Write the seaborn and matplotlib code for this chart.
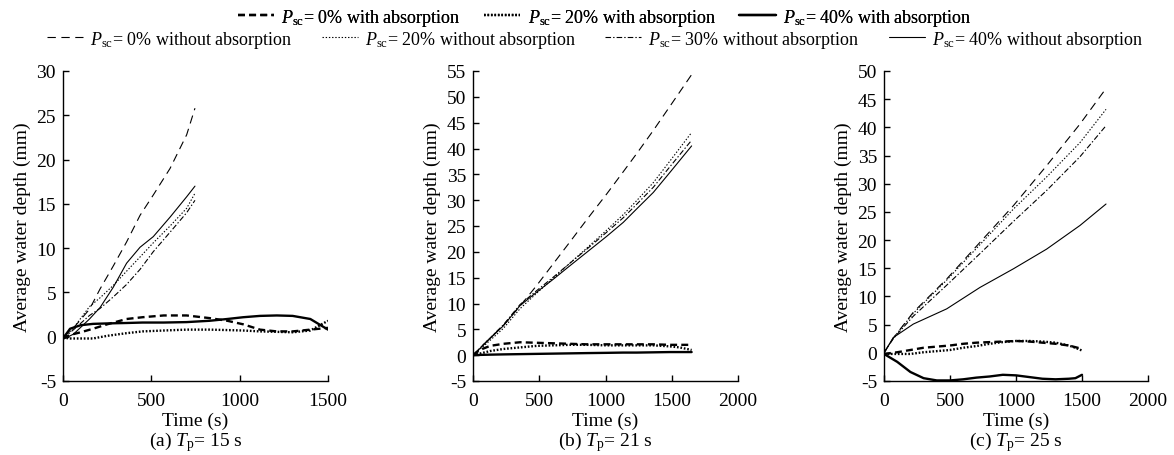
import matplotlib
matplotlib.use("Agg")
import matplotlib.pyplot as plt
from matplotlib.lines import Line2D
import seaborn as sns
import pandas as pd

# ---------------- data ----------------
# Panel (a) Tp = 15 s
t_a_wo = [0, 60, 150, 210, 285, 360, 436, 511, 606, 700, 747]
a_0_wo = [0, 1.0, 3.1, 5.4, 8.0, 10.7, 13.7, 16.0, 19.0, 22.8, 25.8]
a_20_wo = [-0.2, 1.0, 3.4, 4.4, 5.8, 7.4, 9.0, 10.6, 12.5, 14.5, 16.2]
a_30_wo = [-0.2, 0.8, 2.4, 3.2, 4.5, 5.9, 7.6, 9.6, 11.8, 14.0, 15.4]
a_40_wo = [-0.3, 0.3, 2.0, 3.3, 5.6, 8.3, 10.1, 11.3, 13.5, 15.8, 17.0]

t_a_w = [0, 40, 100, 170, 250, 360, 450, 570, 700, 830, 930, 1020, 1115, 1210, 1300, 1400, 1500]
a_0_w = [-0.2, 0.2, 0.5, 0.9, 1.4, 2.0, 2.2, 2.4, 2.4, 2.1, 1.8, 1.4, 0.8, 0.6, 0.6, 0.8, 1.0]
a_20_w = [-0.1, -0.2, -0.2, -0.2, 0.1, 0.4, 0.6, 0.7, 0.8, 0.8, 0.75, 0.7, 0.6, 0.55, 0.5, 0.7, 1.8]
a_40_w = [-0.2, 0.9, 1.3, 1.45, 1.5, 1.55, 1.6, 1.6, 1.65, 1.8, 2.0, 2.2, 2.35, 2.4, 2.35, 2.0, 0.8]

# Panel (b) Tp = 21 s
t_b_wo = [0, 100, 230, 355, 481, 606, 731, 858, 1009, 1134, 1235, 1361, 1487, 1650]
b_0_wo = [0, 2.6, 5.8, 9.5, 13.5, 17.7, 21.9, 26.2, 31.2, 35.5, 39.0, 43.5, 48.2, 54.3]
b_20_wo = [0, 2.2, 5.2, 9.0, 12.0, 14.9, 17.8, 20.7, 24.2, 27.2, 29.9, 33.4, 37.6, 43.1]
b_30_wo = [0, 2.6, 5.9, 9.8, 12.5, 15.1, 17.8, 20.5, 23.8, 26.6, 29.2, 32.5, 36.5, 41.6]
b_40_wo = [0, 2.5, 5.7, 9.6, 12.2, 14.7, 17.3, 19.9, 23.0, 25.7, 28.3, 31.5, 35.4, 40.5]

t_b_w = [0, 50, 130, 230, 355, 481, 606, 731, 858, 1009, 1134, 1235, 1361, 1487, 1560, 1650]
b_0_w = [0, 1.0, 1.8, 2.2, 2.5, 2.4, 2.3, 2.2, 2.1, 2.1, 2.1, 2.1, 2.1, 2.0, 2.0, 2.0]
b_20_w = [0, 0.3, 0.8, 1.2, 1.5, 1.8, 1.9, 2.0, 2.0, 1.9, 1.9, 1.9, 1.9, 1.7, 1.5, 1.0]
b_40_w = [0, 0.05, 0.1, 0.15, 0.2, 0.25, 0.3, 0.35, 0.4, 0.45, 0.5, 0.5, 0.55, 0.6, 0.6, 0.6]

# Panel (c) Tp = 25 s
t_c_wo = [0, 70, 222, 475, 727, 980, 1232, 1485, 1682]
c_0_wo = [0, 2.6, 7.2, 13.1, 19.6, 26.1, 33.2, 40.6, 46.9]
c_20_wo = [0, 2.6, 7.0, 12.9, 19.2, 25.5, 31.2, 37.3, 43.2]
c_30_wo = [0, 2.5, 6.5, 12.0, 17.6, 23.3, 28.8, 34.8, 40.3]
c_40_wo = [0, 2.7, 5.1, 7.8, 11.6, 14.9, 18.4, 22.6, 26.4]

t_c_w = [0, 100, 200, 300, 400, 500, 600, 700, 800, 900, 1000, 1100, 1200, 1300, 1400, 1450, 1500]
c_0_w = [-0.2, 0.1, 0.5, 0.9, 1.1, 1.3, 1.6, 1.8, 1.9, 2.0, 2.1, 2.0, 1.8, 1.6, 1.3, 1.0, 0.7]
c_20_w = [-0.2, -0.2, -0.2, 0.1, 0.3, 0.5, 0.9, 1.2, 1.6, 1.9, 2.1, 2.1, 2.0, 1.8, 1.3, 0.9, 0.4]
c_40_w = [-0.2, -1.6, -3.4, -4.5, -4.9, -4.9, -4.7, -4.4, -4.2, -3.9, -4.0, -4.3, -4.6, -4.7, -4.6, -4.5, -3.9]

panel_captions = ["(a) $T_{\\rm p}$= 15 s", "(b) $T_{\\rm p}$= 21 s", "(c) $T_{\\rm p}$= 25 s"]
x_limits = [1500, 2000, 2000]
x_ticks = [[0, 500, 1000, 1500], [0, 500, 1000, 1500, 2000], [0, 500, 1000, 1500, 2000]]
y_limits = [(-5, 30), (-5, 55), (-5, 50)]
y_steps = [5, 5, 5]
xlabel = "Time (s)"
ylabel = "Average water depth (mm)"

labels_w = ["$P_{\\rm sc}$= 0% with absorption", "$P_{\\rm sc}$= 20% with absorption",
            "$P_{\\rm sc}$= 40% with absorption"]
labels_wo = ["$P_{\\rm sc}$= 0% without absorption", "$P_{\\rm sc}$= 20% without absorption",
             "$P_{\\rm sc}$= 30% without absorption", "$P_{\\rm sc}$= 40% without absorption"]

# ---------------- style ----------------
sns.set_theme(style="ticks")
plt.rcParams["font.family"] = ["Liberation Serif", "DejaVu Serif"]
plt.rcParams["mathtext.fontset"] = "custom"
plt.rcParams["mathtext.rm"] = "Liberation Serif"
plt.rcParams["mathtext.it"] = "Liberation Serif:italic"
plt.rcParams["lines.scale_dashes"] = False
plt.rcParams["axes.unicode_minus"] = False
plt.rcParams["text.color"] = "black"
plt.rcParams["axes.labelcolor"] = "black"
plt.rcParams["xtick.color"] = "black"
plt.rcParams["ytick.color"] = "black"
plt.rcParams["axes.edgecolor"] = "black"

FS = 14
THIN = 0.8
THICK = 1.7
sty_wo = [dict(ls=(0, (6, 4)), lw=THIN), dict(ls=(0, (1, 1.3)), lw=THIN),
          dict(ls=(0, (4, 1.5, 1, 1.5)), lw=THIN), dict(ls="-", lw=THIN)]
sty_w = [dict(ls=(0, (5, 3)), lw=THICK), dict(ls=(0, (1.2, 1.3)), lw=THICK), dict(ls="-", lw=THICK)]

fig = plt.figure(figsize=(11.74, 4.56), dpi=100)
lefts = [63 / 1174, 473 / 1174, 884 / 1174]
widths = [265 / 1174, 265 / 1174, 264 / 1174]
bottom = 74 / 456
height = 310 / 456

panels = [
    (t_a_wo, [a_0_wo, a_20_wo, a_30_wo, a_40_wo], t_a_w, [a_0_w, a_20_w, a_40_w]),
    (t_b_wo, [b_0_wo, b_20_wo, b_30_wo, b_40_wo], t_b_w, [b_0_w, b_20_w, b_40_w]),
    (t_c_wo, [c_0_wo, c_20_wo, c_30_wo, c_40_wo], t_c_w, [c_0_w, c_20_w, c_40_w]),
]

for i, (tw, ys_wo, tt, ys_w) in enumerate(panels):
    ax = fig.add_axes([lefts[i], bottom, widths[i], height])
    for y, s in zip(ys_wo, sty_wo):
        df = pd.DataFrame({"t": tw, "d": y})
        sns.lineplot(data=df, x="t", y="d", ax=ax, color="black", linestyle=s["ls"],
                     linewidth=s["lw"], estimator=None, errorbar=None)
    for y, s in zip(ys_w, sty_w):
        df = pd.DataFrame({"t": tt, "d": y})
        sns.lineplot(data=df, x="t", y="d", ax=ax, color="black", linestyle=s["ls"],
                     linewidth=s["lw"], estimator=None, errorbar=None)
    ax.set_xlim(0, x_limits[i])
    ax.set_ylim(*y_limits[i])
    ax.set_xticks(x_ticks[i])
    ylo, yhi = y_limits[i]
    ax.set_yticks(list(range(ylo, yhi + 1, y_steps[i])))
    for sp in ["top", "right"]:
        ax.spines[sp].set_visible(False)
    for sp in ["left", "bottom"]:
        ax.spines[sp].set_linewidth(1.0)
        ax.spines[sp].set_color("black")
    ax.tick_params(direction="in", length=4, width=1.0, labelsize=FS, colors="black")
    ax.tick_params(axis="x", pad=8)
    ax.tick_params(axis="y", pad=5)
    ax.set_xlabel(xlabel, fontsize=FS, labelpad=2, color="black")
    ax.set_ylabel(ylabel, fontsize=FS, labelpad=4, color="black")
    ax.text(0.5, -0.195, panel_captions[i], transform=ax.transAxes, ha="center", va="center",
            fontsize=FS, color="black")

h_w = [Line2D([], [], color="black", linestyle=s["ls"], linewidth=s["lw"]) for s in sty_w]
h_wo = [Line2D([], [], color="black", linestyle=s["ls"], linewidth=s["lw"]) for s in sty_wo]
leg1 = fig.legend(h_w, labels_w, loc="center", bbox_to_anchor=(0.515, 0.96), ncol=3,
                  frameon=False, fontsize=FS - 1, handlelength=2.0, handletextpad=0.4,
                  columnspacing=1.3, borderpad=0, borderaxespad=0, labelcolor="black")
fig.add_artist(leg1)
fig.legend(h_wo, labels_wo, loc="center", bbox_to_anchor=(0.507, 0.912), ncol=4,
           frameon=False, fontsize=FS - 1, handlelength=2.0, handletextpad=0.4,
           columnspacing=1.6, borderpad=0, borderaxespad=0, labelcolor="black")

fig.savefig("out.png", dpi=100)
